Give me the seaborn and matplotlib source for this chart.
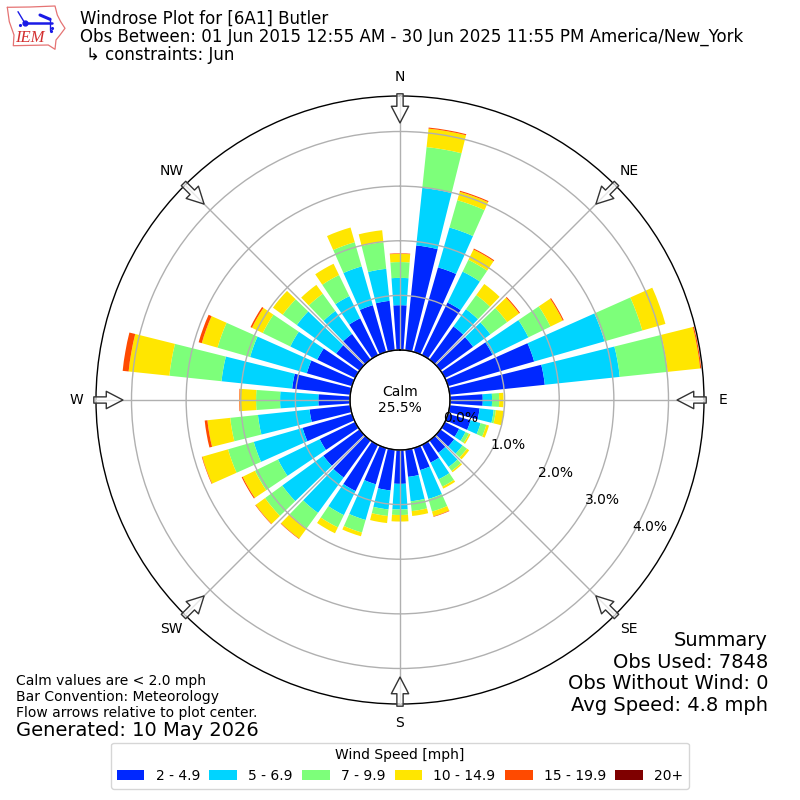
import numpy as np
import matplotlib
matplotlib.use("Agg")
import matplotlib.pyplot as plt
import seaborn as sns

# wind direction (deg, met convention) and cumulative percent at top of each speed bin
directions = list(range(0, 360, 10))
upto_5 = [0.82, 1.93, 1.61, 1.07, 0.75, 0.74, 0.97, 1.64, 1.75, 0.60, 0.55, 0.43,
          0.29, 0.31, 0.28, 0.36, 0.42, 0.50, 0.62, 0.75, 0.69, 0.94, 0.84, 0.82,
          0.72, 0.94, 0.75, 0.58, 1.07, 0.86, 0.77, 0.53, 0.58, 0.75, 0.89, 0.91]
upto_7 = [1.32, 2.99, 2.37, 1.70, 1.14, 1.13, 1.70, 2.98, 3.13, 0.77, 0.81, 0.62,
          0.42, 0.50, 0.60, 0.70, 0.97, 0.95, 1.09, 1.10, 1.37, 1.43, 1.64, 1.75,
          1.57, 1.87, 1.70, 1.28, 2.37, 1.94, 1.32, 1.42, 1.10, 1.20, 1.63, 1.50]
upto_10 = [1.61, 3.74, 2.89, 1.94, 1.46, 1.51, 2.15, 3.70, 4.01, 0.90, 0.85, 0.73,
           0.49, 0.60, 0.69, 0.85, 1.21, 1.13, 1.19, 1.22, 1.61, 1.68, 1.99, 2.14,
           2.04, 2.36, 2.21, 1.72, 3.33, 2.56, 1.88, 1.74, 1.49, 1.63, 2.09, 1.99]
upto_15 = [1.76, 4.08, 3.05, 2.15, 1.71, 1.78, 2.40, 4.14, 4.61, 0.98, 1.00, 0.78,
           0.52, 0.65, 0.72, 0.89, 1.30, 1.22, 1.31, 1.35, 1.68, 1.80, 2.22, 2.35,
           2.29, 2.85, 2.63, 2.02, 4.08, 2.86, 2.10, 1.96, 1.69, 1.86, 2.37, 2.21]
upto_20 = [1.77, 4.10, 3.07, 2.17, 1.71, 1.80, 2.42, 4.14, 4.63, 0.98, 1.00, 0.78,
           0.52, 0.65, 0.72, 0.89, 1.31, 1.22, 1.31, 1.35, 1.68, 1.80, 2.23, 2.36,
           2.31, 2.86, 2.68, 2.03, 4.19, 2.92, 2.13, 1.96, 1.69, 1.86, 2.37, 2.21]
upto_all = upto_20

speed_labels = ["2 - 4.9", "5 - 6.9", "7 - 9.9", "10 - 14.9", "15 - 19.9", "20+"]
speed_colors = ["#0028ff", "#00d4ff", "#7dff7a", "#ffe600", "#ff4a00", "#7f0000"]
compass = ["N", "NE", "E", "SE", "S", "SW", "W", "NW"]
ring_ticks = [0, 1, 2, 3, 4]
summary_lines = ["Summary", "Obs Used: 7848", "Obs Without Wind: 0", "Avg Speed: 4.8 mph"]

sns.set_style("white")
plt.rcParams["font.family"] = ["DejaVu Sans"]
plt.rcParams.update({"text.color": "black", "xtick.color": "black", "ytick.color": "black"})

fig = plt.figure(figsize=(8, 8), dpi=100)
ax = fig.add_axes([0.12, 0.12, 0.76, 0.76], projection="polar")
ax.set_theta_zero_location("N")
ax.set_theta_direction(-1)

theta = np.deg2rad(directions)
stacks = [upto_5, upto_7, upto_10, upto_15, upto_20, upto_all]
prev = np.zeros(len(directions))
for vals, color, label in zip(stacks, speed_colors, speed_labels):
    vals = np.array(vals)
    sns.barplot(x=theta, y=vals - prev, bottom=prev, native_scale=True, width=0.8, color=color,
                saturation=1, errorbar=None, linewidth=0, label=label, zorder=1, ax=ax)
    prev = vals

ax.set_xlabel("")
ax.set_ylabel("")
ax.set_xlim(0, 2 * np.pi)
ax.set_rorigin(-0.915)
ax.set_rlim(0, 4.65)
ax.set_axisbelow(False)
ax.grid(True, color="#b0b0b0", linewidth=1)
ax.set_thetagrids(np.arange(0, 360, 45), compass, fontsize=10)
ax.tick_params(axis="x", pad=3.5)
ax.set_rgrids(ring_ticks, [f"{t:.1f}%" for t in ring_ticks], angle=120, fontsize=10)
ax.spines["polar"].set_linewidth(1)
ax.spines["polar"].set_color("black")

# dark circle around the calm hole
circle = np.linspace(0, 2 * np.pi, 200)
ax.plot(circle, np.zeros_like(circle), color="black", lw=1, clip_on=False, zorder=5)

# flow arrows
for deg in range(0, 360, 45):
    ang = np.deg2rad(deg)
    ax.annotate("", xy=(ang, 4.157), xytext=(ang, 4.69),
                arrowprops=dict(arrowstyle="simple,head_length=1.2,head_width=1.25,tail_width=0.45",
                                fc=(1, 1, 1, 0.7), ec="#333333", lw=1, shrinkA=0, shrinkB=0),
                annotation_clip=False, zorder=6)

ax.text(0.5, 0.5, "Calm\n25.5%", transform=ax.transAxes, ha="center", va="center", fontsize=10)

fig.text(0.1, 0.976, "Windrose Plot for [6A1] Butler", fontsize=12, va="center")
fig.text(0.1, 0.9545, "Obs Between: 01 Jun 2015 12:55 AM - 30 Jun 2025 11:55 PM America/New_York", fontsize=12.01, va="center")
fig.text(0.107, 0.931, "\u21b3 constraints: Jun", fontsize=12, va="center")

fig.text(0.02, 0.129, "Calm values are < 2.0 mph\nBar Convention: Meteorology\nFlow arrows relative to plot center.",
         fontsize=10, va="center", linespacing=1.2)
fig.text(0.02, 0.0865, "Generated: 10 May 2026", fontsize=14, va="center")
for i, line in enumerate(summary_lines):
    fig.text(0.96, 1 - (646 + i * 21.7) / 800, line, fontsize=14, ha="right", va="baseline")

handles, labels = ax.get_legend_handles_labels()
if ax.get_legend():
    ax.get_legend().remove()
by_label = dict(zip(labels, handles))
fig.legend([by_label[k] for k in speed_labels], speed_labels, title="Wind Speed [mph]", ncol=6,
           loc="lower center", bbox_to_anchor=(0.5, 0.0055), fontsize=10, title_fontsize=10,
           columnspacing=0.67)

# IEM logo, drawn in pixel units of a small corner axes
logo = fig.add_axes([0, 0.92, 0.1, 0.08])
logo.axis("off")
logo.patch.set_alpha(0)
logo.set_xlim(0, 80)
logo.set_ylim(64, 0)
outline_x = [7.3, 30, 55, 57.3, 60.7, 65, 60, 56, 55, 48.3, 13.3, 14, 9.3, 7.3]
outline_y = [7.3, 7, 6, 15, 21.7, 28.3, 35, 40, 49.3, 45, 45.7, 35, 21.7, 7.3]
logo.plot(outline_x, outline_y, color="#e57373", lw=0.9)
logo.plot([25, 52], [23.3, 23.3], color="#1a1ae6", lw=1.8)
logo.plot([25], [23.3], "o", color="#1a1ae6", ms=3.5)
logo.plot([18, 24], [11.7, 21.7], color="#1a1ae6", lw=1.0)
logo.plot([40, 50], [15, 19.3], color="#1a1ae6", lw=2.2)
logo.plot([50, 50], [18.3, 30], color="#1a1ae6", lw=1.0)
logo.plot([20, 52, 51], [24.5, 28, 31], ".", color="#1a1ae6", ms=2.5)
logo.text(30, 38.5, "IEM", color="#d32f2f", fontsize=12, family="Liberation Serif", style="italic",
          ha="center", va="center")

fig.savefig("out.png", dpi=100)
